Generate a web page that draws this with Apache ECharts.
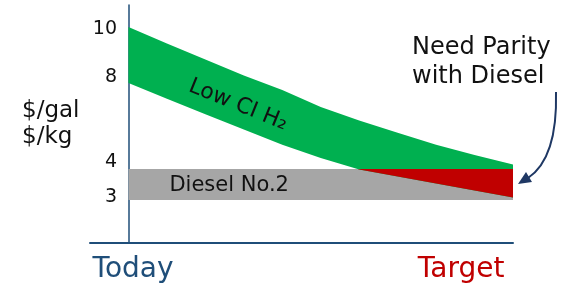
<!DOCTYPE html>
<html>
<head>
<meta charset="utf-8">
<script src="https://cdn.jsdelivr.net/npm/echarts@6/dist/echarts.min.js"></script>
<style>
  html, body { margin: 0; padding: 0; background: #fff; }
  #chart { width: 565px; height: 297px; }
</style>
</head>
<body>
<div id="chart"></div>
<script>
// progress from Today (0) to Target (100)
const xs = [0, 10, 20, 30, 40, 50, 60, 70, 80, 90, 100];
// Low CI H2 cost band, $/kg
const h2Top = [10.08, 9.40, 8.73, 8.07, 7.46, 6.76, 6.20, 5.69, 5.19, 4.76, 4.37];
const h2Bottom = [7.76, 7.10, 6.46, 5.82, 5.19, 4.64, 4.16, 3.87, 3.58, 3.28, 2.99];
// diesel No.2 band, $/gal
const dieselBand = [2.89, 4.18];
// the sketch's tick labels and where they sit on the axis
const yTicks = ['10', '8', '4', '3'];
const yLabelAt = [10, 8, 4.45, 3];
const xLabels = ['Today', 'Target'];
const xLabelAt = [1.2, 86.5];

const hand = 'DejaVu Sans';
const navy = '#1F4E79';

// part of the H2 band that drops under the diesel price
function overlap() {
  const cap = dieselBand[1];
  const pts = [];
  for (let i = 0; i < xs.length; i++) {
    if (h2Bottom[i] < cap) {
      if (i > 0 && h2Bottom[i - 1] >= cap) {
        const t = (cap - h2Bottom[i - 1]) / (h2Bottom[i] - h2Bottom[i - 1]);
        pts.push([xs[i - 1] + t * (xs[i] - xs[i - 1]), cap]);
      }
      pts.push([xs[i], h2Bottom[i]]);
    }
  }
  pts.push([xs[xs.length - 1], cap]);
  return pts;
}

function band(top, bottom, color, label) {
  return function (params, api) {
    const pts = [];
    xs.forEach((x, i) => pts.push(api.coord([x, top[i]])));
    for (let i = xs.length - 1; i >= 0; i--) pts.push(api.coord([xs[i], bottom[i]]));
    const children = [{ type: 'polygon', shape: { points: pts }, style: { fill: color } }];
    if (label) {
      const p = api.coord(label.at);
      children.push({
        type: 'text', x: p[0], y: p[1], rotation: label.rotation || 0,
        style: {
          text: label.text, fill: '#111', font: label.size + 'px "' + hand + '"',
          align: 'center', verticalAlign: 'middle'
        }
      });
    }
    return { type: 'group', children: children };
  };
}

const chart = echarts.init(document.getElementById('chart'));
chart.setOption({
  animation: false,
  grid: { left: 90, right: 52, top: 5, bottom: 54, outerBoundsMode: 'none', containLabel: false },
  xAxis: {
    type: 'value', min: -10, max: 100,
    splitLine: { show: false },
    axisTick: { show: false },
    axisLine: { lineStyle: { color: navy, width: 2 } },
    axisLabel: {
      customValues: xLabelAt,
      margin: 13,
      formatter: v => {
        const i = xLabelAt.indexOf(v);
        return i === 0 ? '{a|' + xLabels[0] + '}' : '{b|' + xLabels[1] + '}';
      },
      rich: {
        a: { color: navy, fontSize: 28, fontFamily: 'DejaVu Sans' },
        b: { color: '#C00000', fontSize: 28, fontFamily: 'DejaVu Sans' }
      }
    }
  },
  yAxis: {
    type: 'value', min: 1.1, max: 11,
    splitLine: { show: false },
    axisTick: { show: false },
    axisLine: { onZero: true, lineStyle: { color: navy, width: 1.5 } },
    name: '$/gal\n$/kg',
    nameLocation: 'middle',
    nameRotate: 0,
    nameGap: 6,
    nameMoveOverlap: false,
    nameTextStyle: { fontFamily: hand, fontSize: 23, color: '#111', lineHeight: 26, align: 'left', padding: [0, 0, 0, -62] },
    axisLabel: {
      customValues: yLabelAt,
      hideOverlap: false,
      margin: -27,
      color: '#111',
      fontFamily: hand,
      fontSize: 19,
      formatter: v => yTicks[yLabelAt.indexOf(v)]
    }
  },
  series: [
    {
      type: 'custom', silent: true, data: [[0, 0]],
      renderItem: band(xs.map(() => dieselBand[1]), xs.map(() => dieselBand[0]), '#A6A6A6',
        { text: 'Diesel No.2', at: [26.2, 3.51], size: 21 })
    },
    {
      type: 'custom', silent: true, data: [[0, 0]],
      renderItem: band(h2Top, h2Bottom, '#00B050',
        { text: 'Low CI H₂', at: [28.5, 6.84], size: 22, rotation: -22 * Math.PI / 180 })
    },
    {
      type: 'custom', silent: true, data: [[0, 0]],
      renderItem: function (params, api) {
        const o = overlap();
        const pts = o.map(p => api.coord(p));
        pts.push(api.coord([o[0][0], dieselBand[1]]));
        return { type: 'polygon', shape: { points: pts }, style: { fill: '#C00000' } };
      }
    }
  ],
  graphic: [
    {
      type: 'text', left: 412, top: 33,
      style: {
        text: 'Need Parity\nwith Diesel', fill: '#111', font: '24px "DejaVu Sans"',
        align: 'center', lineHeight: 29
      }
    },
    {
      type: 'bezierCurve',
      shape: { x1: 556, y1: 92, cpx1: 557, cpy1: 132, cpx2: 549, cpy2: 164, x2: 528, y2: 178 },
      style: { stroke: '#1F3864', lineWidth: 2, fill: null }
    },
    {
      type: 'polygon',
      shape: { points: [[518, 184], [526, 172], [532, 182]] },
      style: { fill: '#1F3864' }
    }
  ]
});
</script>
</body>
</html>
